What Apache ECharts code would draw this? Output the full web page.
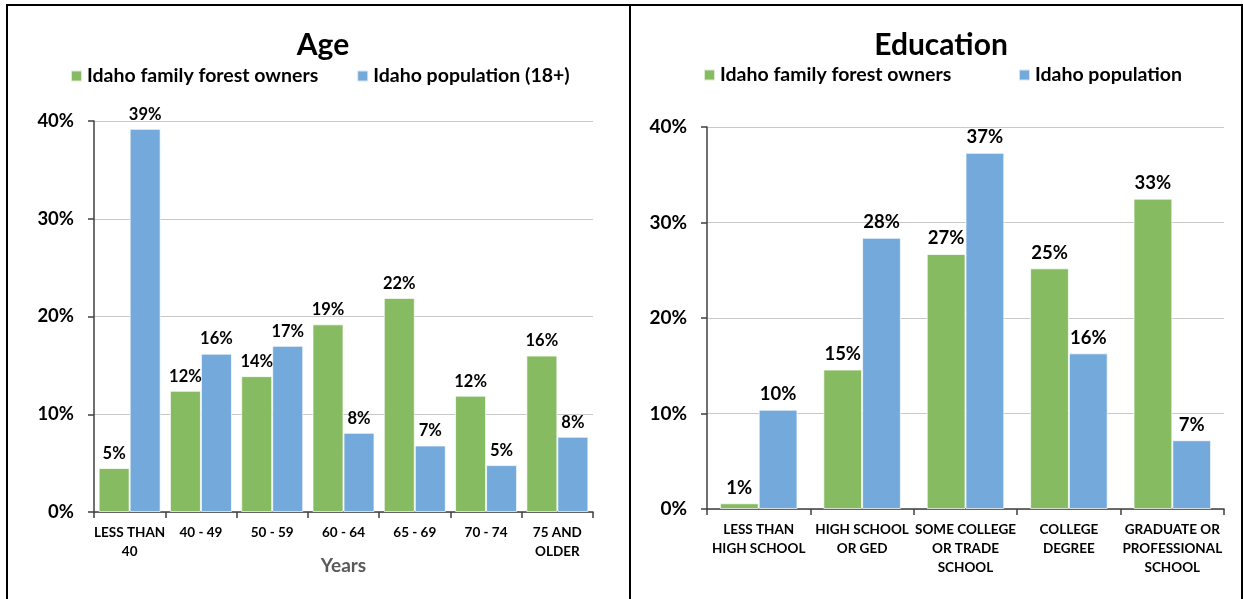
<!DOCTYPE html>
<html>
<head>
<meta charset="utf-8">
<title>Idaho family forest owners: age and education</title>
<script src="https://cdn.jsdelivr.net/npm/echarts@6/dist/echarts.min.js"></script>
<style>
  html, body { margin: 0; padding: 0; background: #fff; }
  #chart { width: 1243px; height: 599px; }
</style>
</head>
<body>
<div id="chart"></div>
<script>
// Age panel
const ageCategories = ['LESS THAN\n40', '40 - 49', '50 - 59', '60 - 64', '65 - 69', '70 - 74', '75 AND\nOLDER'];
const ageOwners = [4.5, 12.4, 13.9, 19.2, 21.9, 11.9, 16.0];
const agePopulation = [39.2, 16.2, 17.0, 8.1, 6.8, 4.8, 7.7];

// Education panel
const eduCategories = ['LESS THAN\nHIGH SCHOOL', 'HIGH SCHOOL\nOR GED', 'SOME COLLEGE\nOR TRADE\nSCHOOL', 'COLLEGE\nDEGREE', 'GRADUATE OR\nPROFESSIONAL\nSCHOOL'];
const eduOwners = [0.6, 14.6, 26.7, 25.2, 32.5];
const eduPopulation = [10.4, 28.4, 37.3, 16.3, 7.2];

const yTicks = { min: 0, max: 40, interval: 10 };

const FONT = 'Lato, "Noto Sans", sans-serif';
const GREEN = '#87bb62';
const BLUE = '#74a9db';
const AXIS = '#404040';

const chart = echarts.init(document.getElementById('chart'), null, { renderer: 'canvas' });

function yAxis(gridIndex, size) {
  return {
    type: 'value', gridIndex,
    min: yTicks.min, max: yTicks.max, interval: yTicks.interval,
    axisLine: { show: true, lineStyle: { color: AXIS, width: 1.5 } },
    axisTick: { show: true, length: 6, lineStyle: { color: AXIS, width: 1.5 } },
    splitLine: { lineStyle: { color: '#c8c8c8', width: 1 } },
    axisLabel: { formatter: '{value}%', color: '#000', fontFamily: FONT, fontWeight: 'bold', fontSize: size, margin: 20 }
  };
}

function xAxis(gridIndex, data, extra) {
  return Object.assign({
    type: 'category', gridIndex, data,
    axisLine: { show: true, lineStyle: { color: AXIS, width: 1.5 } },
    axisTick: { show: true, length: 6, alignWithLabel: false, lineStyle: { color: AXIS, width: 1.5 } },
    axisLabel: { interval: 0, color: '#000', fontFamily: FONT, fontWeight: 'bold', fontSize: 13.5, lineHeight: 19, margin: 11 }
  }, extra || {});
}

function bars(name, data, color, xi, gap, labelSize) {
  return {
    type: 'bar', name, data,
    xAxisIndex: xi, yAxisIndex: xi,
    barGap: '0%', barCategoryGap: gap,
    itemStyle: { color, borderColor: 'rgba(255,255,255,0.7)', borderWidth: 1 },
    label: {
      show: true, position: 'top', distance: 6,
      color: '#000', fontFamily: FONT, fontWeight: 'bold', fontSize: labelSize,
      formatter: p => Math.round(p.value) + '%'
    }
  };
}

const legendText = { color: '#000', fontFamily: FONT, fontWeight: 'bold', fontSize: 19.5 };

chart.setOption({
  animation: false,
  backgroundColor: '#fff',
  title: [
    { text: 'Age', left: 318, top: 25, textAlign: 'center',
      textStyle: { color: '#000', fontFamily: FONT, fontWeight: 'bold', fontSize: 30 } },
    { text: 'Education', left: 936, top: 25, textAlign: 'center',
      textStyle: { color: '#000', fontFamily: FONT, fontWeight: 'bold', fontSize: 30 } }
  ],
  legend: [
    { left: 70, top: 66, padding: 0, itemWidth: 11, itemHeight: 11, itemGap: 38,
      icon: 'rect', textStyle: legendText,
      data: ['Idaho family forest owners', 'Idaho population (18+)'] },
    { left: 703, top: 65, padding: 0, itemWidth: 11, itemHeight: 11, itemGap: 62,
      icon: 'rect', textStyle: legendText,
      data: ['Idaho family forest owners ', 'Idaho population'] }
  ],
  grid: [
    { left: 94, top: 121, width: 499, height: 391 },
    { left: 707, top: 127, width: 517, height: 382 }
  ],
  xAxis: [
    xAxis(0, ageCategories, {
      name: 'Years', nameLocation: 'middle', nameGap: 44, nameMoveOverlap: false,
      nameTextStyle: { color: '#595959', fontFamily: FONT, fontWeight: 'bold', fontSize: 19, verticalAlign: 'top' }
    }),
    xAxis(1, eduCategories)
  ],
  yAxis: [yAxis(0, 18.5), yAxis(1, 19)],
  series: [
    bars('Idaho family forest owners', ageOwners, GREEN, 0, '13%', 16.5),
    bars('Idaho population (18+)', agePopulation, BLUE, 0, '13%', 16.5),
    bars('Idaho family forest owners ', eduOwners, GREEN, 1, '25%', 18.5),
    bars('Idaho population', eduPopulation, BLUE, 1, '25%', 18.5)
  ],
  graphic: [
    { type: 'rect', shape: { x: 7, y: 5, width: 623, height: 620 },
      style: { fill: 'none', stroke: '#000', lineWidth: 2 }, silent: true },
    { type: 'rect', shape: { x: 630, y: 5, width: 612, height: 620 },
      style: { fill: 'none', stroke: '#000', lineWidth: 2 }, silent: true }
  ]
});
</script>
</body>
</html>
